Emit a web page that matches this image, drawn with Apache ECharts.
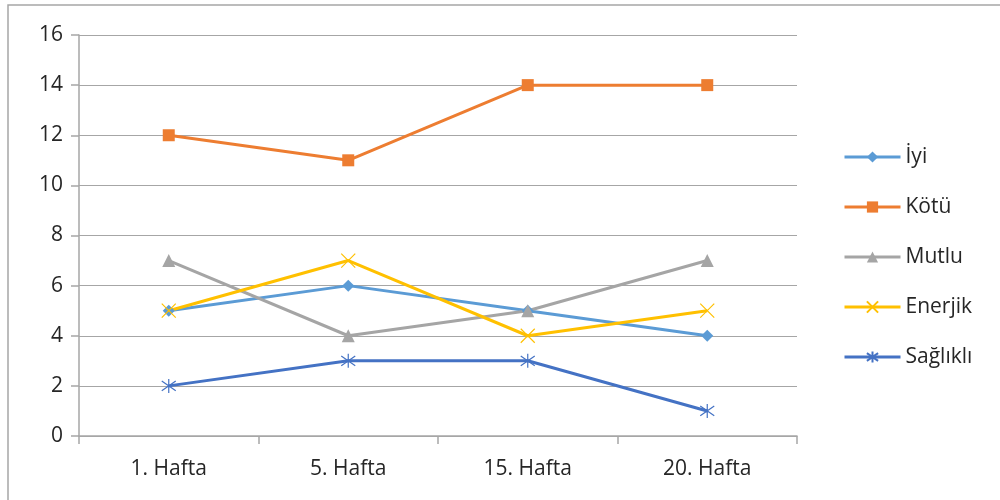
<!DOCTYPE html>
<html>
<head>
<meta charset="utf-8">
<script src="https://cdn.jsdelivr.net/npm/echarts@6/dist/echarts.min.js"></script>
<style>
  html, body { margin: 0; padding: 0; background: #fff; }
  #chart { width: 1000px; height: 500px; }
</style>
</head>
<body>
<div id="chart"></div>
<script>
// haftalar ve seriler
const categories = ['1. Hafta', '5. Hafta', '15. Hafta', '20. Hafta'];
const iyi = [5, 6, 5, 4];
const kotu = [12, 11, 14, 14];
const mutlu = [7, 4, 5, 7];
const enerjik = [5, 7, 4, 5];
const saglikli = [2, 3, 3, 1];

const xMark = 'path://M0,0L10,10M10,0L0,10';
const starMark = 'path://M5,0L5,10M0,1.5L10,8.5M10,1.5L0,8.5';

const fontFamily = '"Open Sans", "DejaVu Sans", sans-serif';

function lineSeries(name, data, color, symbol, size, stroked) {
  return {
    name: name,
    type: 'line',
    data: data,
    symbol: symbol,
    symbolSize: size,
    showAllSymbol: true,
    animation: false,
    lineStyle: { color: color, width: 3 },
    itemStyle: stroked
      ? { color: color, borderColor: color, borderWidth: 1.2 }
      : { color: color, borderColor: color, borderWidth: 0 }
  };
}

const chart = echarts.init(document.getElementById('chart'));
chart.setOption({
  backgroundColor: '#fff',
  textStyle: { fontFamily: fontFamily },
  graphic: [{
    type: 'rect',
    shape: { x: 8, y: 5, width: 1200, height: 800 },
    style: { fill: 'none', stroke: '#a6a6a6', lineWidth: 1.5 },
    silent: true
  }],
  grid: { left: 79, right: 203, top: 35, bottom: 64 },
  legend: {
    orient: 'vertical',
    left: 838,
    top: 141,
    itemWidth: 56,
    itemHeight: 14,
    itemGap: 28,
    lineStyle: { width: 3 },
    textStyle: { fontSize: 21, lineHeight: 22, color: '#262626', fontFamily: fontFamily },
    data: ['İyi', 'Kötü', 'Mutlu', 'Enerjik', 'Sağlıklı']
  },
  xAxis: {
    type: 'category',
    data: categories,
    boundaryGap: true,
    axisLine: { lineStyle: { color: '#a6a6a6', width: 1.5 } },
    axisTick: { show: true, length: 8, lineStyle: { color: '#a6a6a6', width: 1.5 } },
    axisLabel: { fontSize: 21, color: '#262626', margin: 23, fontFamily: fontFamily }
  },
  yAxis: {
    type: 'value',
    min: 0,
    max: 16,
    interval: 2,
    axisLine: { show: true, lineStyle: { color: '#a6a6a6', width: 1.5 } },
    axisTick: { show: true, length: 8, lineStyle: { color: '#a6a6a6', width: 1.5 } },
    splitLine: { lineStyle: { color: '#a6a6a6', width: 1.2 } },
    axisLabel: { fontSize: 21, color: '#262626', margin: 16, fontFamily: fontFamily }
  },
  series: [
    lineSeries('İyi', iyi, '#5B9BD5', 'diamond', 12, false),
    lineSeries('Kötü', kotu, '#ED7D31', 'rect', 12, false),
    lineSeries('Mutlu', mutlu, '#A5A5A5', 'triangle', 13, false),
    lineSeries('Enerjik', enerjik, '#FFC000', xMark, 14, true),
    lineSeries('Sağlıklı', saglikli, '#4472C4', starMark, 14, true)
  ]
});
</script>
</body>
</html>
